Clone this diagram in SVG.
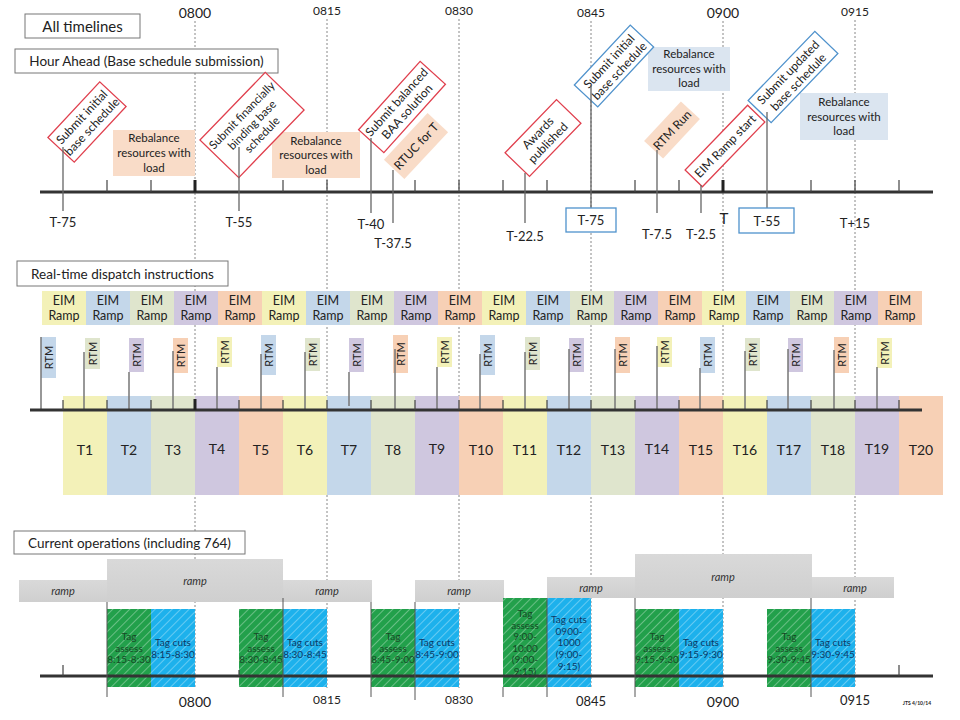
<svg xmlns="http://www.w3.org/2000/svg" width="960" height="720" viewBox="0 0 960 720">
<defs>
<style>
text{font-family:Lato,"Liberation Sans",sans-serif;fill:#222;}
.c{text-anchor:middle;}
.h{font-size:13.5px;text-anchor:middle;}
.hb{fill:#fff;stroke:#777;stroke-width:1;}
.dash{stroke:#888;stroke-width:1;stroke-dasharray:2,2;fill:none;}
.tl{stroke:#333;stroke-width:3;fill:none;}
.tk{stroke:#444;stroke-width:1.2;fill:none;}
.tkb{stroke:#222;stroke-width:3;fill:none;}
.ml{stroke:#666;stroke-width:1.3;fill:none;}
.cr{fill:#fff;stroke:#e0404e;stroke-width:1.3;}
.cb{fill:#fff;stroke:#4f92cc;stroke-width:1.3;}
.co{fill:#f9dcc8;}
.ct{font-size:12px;text-anchor:middle;}
.rb{font-size:11.5px;text-anchor:middle;}
.lbl{font-size:13px;text-anchor:middle;}
.y{fill:#f3f1b8;}.b{fill:#c4d7ea;}.g{fill:#dfe5cd;}.p{fill:#cfc7df;}.o{fill:#f7d0b5;}
.eim{font-size:12.5px;text-anchor:middle;}
.rtm{font-size:11px;text-anchor:middle;}
.rl{stroke:#777;stroke-width:1.5;fill:none;}
.tt{font-size:14px;text-anchor:middle;}
.ramp{fill:url(#rg);}
.rt{font-size:11px;font-style:italic;text-anchor:middle;fill:#333;}
.ga{fill:#22a04b;}.bc{fill:#1db1ec;}
.gt{font-size:10px;text-anchor:middle;fill:#174a26;}
.bt{font-size:10px;text-anchor:middle;fill:#0d3a66;}
.vl{stroke:#555;stroke-width:1;fill:none;}
</style>
<linearGradient id="rg" x1="0" y1="0" x2="0" y2="1"><stop offset="0" stop-color="#d9d9d9"/><stop offset="1" stop-color="#cfcfcf"/></linearGradient>
<pattern id="hatch" patternUnits="userSpaceOnUse" width="6" height="6" patternTransform="rotate(45)">
<line x1="0" y1="0" x2="0" y2="6" stroke="#fff" stroke-opacity="0.55" stroke-width="1.2"/>
</pattern>
</defs>
<rect width="960" height="720" fill="#fff"/>

<!-- dashed hour lines -->
<g id="hourlines">
<line class="dash" x1="195" y1="21" x2="195" y2="688"/>
<line class="dash" x1="327" y1="19" x2="327" y2="688"/>
<line class="dash" x1="459" y1="19" x2="459" y2="688"/>
<line class="dash" x1="591" y1="21" x2="591" y2="688"/>
<line class="dash" x1="723" y1="21" x2="723" y2="688"/>
<line class="dash" x1="855" y1="20" x2="855" y2="688"/>
</g>
<g id="toplabels">
<text x="195" y="18" style="font-size:14px" class="c">0800</text>
<text x="327" y="15" style="font-size:12px" class="c">0815</text>
<text x="459" y="15" style="font-size:12px" class="c">0830</text>
<text x="591" y="17" style="font-size:12px" class="c">0845</text>
<text x="723" y="18" style="font-size:14px" class="c">0900</text>
<text x="855" y="16" style="font-size:12px" class="c">0915</text>
</g>

<!-- headings -->
<g id="h-all"><rect class="hb" x="25" y="14" width="115" height="24"/><text x="82.5" y="31.5" style="font-size:15px" class="c">All timelines</text></g>
<g id="h-hour"><rect class="hb" x="15" y="49" width="263" height="24"/><text x="146.5" y="66" class="h">Hour Ahead (Base schedule submission)</text></g>

<!-- rebalance boxes -->
<g id="reb1"><rect class="co" x="113" y="130" width="82" height="46"/><text class="rb" x="154" y="142">Rebalance</text><text class="rb" x="154" y="157">resources with</text><text class="rb" x="154" y="172">load</text></g>
<g id="reb2"><rect class="co" x="272" y="132" width="88" height="46"/><text class="rb" x="316" y="145">Rebalance</text><text class="rb" x="316" y="159">resources with</text><text class="rb" x="316" y="174">load</text></g>
<g id="reb3"><rect fill="#dbe5f0" x="648" y="47" width="82" height="44"/><text class="rb" x="689" y="58">Rebalance</text><text class="rb" x="689" y="73">resources with</text><text class="rb" x="689" y="87">load</text></g>
<g id="reb4"><rect fill="#dbe5f0" x="800" y="93" width="88" height="47"/><text class="rb" x="844" y="106">Rebalance</text><text class="rb" x="844" y="121">resources with</text><text class="rb" x="844" y="135">load</text></g>

<!-- top timeline -->
<g id="timeline1">
<line class="tl" x1="40" y1="192" x2="933" y2="192"/>
<path class="tk" d="M107 180V192M151 180V192M283 180V192M327 180V192M415 180V192M459 180V192M503 180V192M547 180V192M635 180V192M679 180V192M811 180V192M855 180V192M899 180V192"/>
<path class="tkb" d="M195 180V192M723 180V192"/>
</g>

<!-- callouts -->
<g id="c-init1" transform="translate(87,122) rotate(-47)"><rect class="cr" x="-38" y="-18" width="76" height="36"/><text class="ct" y="-3">Submit initial</text><text class="ct" y="11">base schedule</text></g>
<g id="c-fin" transform="translate(252,125) rotate(-46)"><rect class="cr" x="-47" y="-27" width="94" height="54"/><text class="ct" y="-10" style="font-size:11.5px">Submit financially</text><text class="ct" y="4" style="font-size:11.5px">binding base</text><text class="ct" y="18" style="font-size:11.5px">schedule</text></g>
<g id="c-baa" transform="translate(402,107) rotate(-48)"><rect class="cr" x="-46" y="-17" width="92" height="34"/><text class="ct" y="-3">Submit balanced</text><text class="ct" y="11">BAA solution</text></g>
<g id="c-rtuc" transform="translate(416,146) rotate(-47)"><rect class="co" x="-32" y="-14" width="64" height="28"/><text class="ct" y="4.5">RTUC for T</text></g>
<g id="c-awards" transform="translate(543,138) rotate(-46)"><rect class="cr" x="-37" y="-17" width="74" height="34"/><text class="ct" y="-3">Awards</text><text class="ct" y="11">published</text></g>
<g id="c-init2" transform="translate(614,66) rotate(-47)"><rect class="cb" x="-41" y="-16" width="82" height="32"/><text class="ct" y="-2.5">Submit initial</text><text class="ct" y="11.5">base schedule</text></g>
<g id="c-rtmrun" transform="translate(672,130) rotate(-47)"><rect class="co" x="-27" y="-13" width="54" height="26"/><text class="ct" y="4.5">RTM Run</text></g>
<g id="c-eim" transform="translate(725,146) rotate(-46)"><rect class="cr" x="-45" y="-12" width="90" height="24"/><text class="ct" y="4.5">EIM Ramp start</text></g>
<g id="c-upd" transform="translate(793,77) rotate(-46)"><rect class="cb" x="-48" y="-16" width="96" height="32"/><text class="ct" y="-2.5">Submit updated</text><text class="ct" y="11.5">base schedule</text></g>

<!-- marker lines -->
<g id="markers">
<path class="ml" d="M63 147V211M239 147V211M371 138V213M393 170V223M525 173V223M591 85V208M657 150V213M701 185V213M767 112V208"/>
</g>
<g id="tlabels">
<text class="lbl" x="63" y="227">T-75</text>
<text class="lbl" x="239" y="227">T-55</text>
<text class="lbl" x="371" y="229">T-40</text>
<text class="lbl" x="393" y="248">T-37.5</text>
<text class="lbl" x="525" y="241">T-22.5</text>
<g id="tb75"><rect class="cb" x="566" y="208" width="50" height="24"/><text class="lbl" x="591" y="225">T-75</text></g>
<text class="lbl" x="657" y="239">T-7.5</text>
<text class="lbl" x="701" y="239">T-2.5</text>
<text x="724" y="224" style="font-size:15px" class="c">T</text>
<g id="tb55"><rect class="cb" x="739" y="208" width="55" height="25"/><text class="lbl" x="767" y="226">T-55</text></g>
<text class="lbl" x="855" y="228">T+15</text>
</g>

<!-- Real-time dispatch -->
<g id="h-rt"><rect class="hb" x="17" y="261" width="211" height="25"/><text x="122.5" y="278.5" class="h">Real-time dispatch instructions</text></g>

<g id="eim">
<rect class="y" x="42" y="291" width="44" height="34"/><rect class="b" x="86" y="291" width="44" height="34"/><rect class="g" x="130" y="291" width="44" height="34"/><rect class="p" x="174" y="291" width="44" height="34"/><rect class="o" x="218" y="291" width="44" height="34"/>
<rect class="y" x="262" y="291" width="44" height="34"/><rect class="b" x="306" y="291" width="44" height="34"/><rect class="g" x="350" y="291" width="44" height="34"/><rect class="p" x="394" y="291" width="44" height="34"/><rect class="o" x="438" y="291" width="44" height="34"/>
<rect class="y" x="482" y="291" width="44" height="34"/><rect class="b" x="526" y="291" width="44" height="34"/><rect class="g" x="570" y="291" width="44" height="34"/><rect class="p" x="614" y="291" width="44" height="34"/><rect class="o" x="658" y="291" width="44" height="34"/>
<rect class="y" x="702" y="291" width="44" height="34"/><rect class="b" x="746" y="291" width="44" height="34"/><rect class="g" x="790" y="291" width="44" height="34"/><rect class="p" x="834" y="291" width="44" height="34"/><rect class="o" x="878" y="291" width="44" height="34"/>
<g class="eim">
<text x="64" y="304.5">EIM</text><text x="108" y="304.5">EIM</text><text x="152" y="304.5">EIM</text><text x="196" y="304.5">EIM</text><text x="240" y="304.5">EIM</text><text x="284" y="304.5">EIM</text><text x="328" y="304.5">EIM</text><text x="372" y="304.5">EIM</text><text x="416" y="304.5">EIM</text><text x="460" y="304.5">EIM</text>
<text x="504" y="304.5">EIM</text><text x="548" y="304.5">EIM</text><text x="592" y="304.5">EIM</text><text x="636" y="304.5">EIM</text><text x="680" y="304.5">EIM</text><text x="724" y="304.5">EIM</text><text x="768" y="304.5">EIM</text><text x="812" y="304.5">EIM</text><text x="856" y="304.5">EIM</text><text x="900" y="304.5">EIM</text>
<text x="64" y="319.5">Ramp</text><text x="108" y="319.5">Ramp</text><text x="152" y="319.5">Ramp</text><text x="196" y="319.5">Ramp</text><text x="240" y="319.5">Ramp</text><text x="284" y="319.5">Ramp</text><text x="328" y="319.5">Ramp</text><text x="372" y="319.5">Ramp</text><text x="416" y="319.5">Ramp</text><text x="460" y="319.5">Ramp</text>
<text x="504" y="319.5">Ramp</text><text x="548" y="319.5">Ramp</text><text x="592" y="319.5">Ramp</text><text x="636" y="319.5">Ramp</text><text x="680" y="319.5">Ramp</text><text x="724" y="319.5">Ramp</text><text x="768" y="319.5">Ramp</text><text x="812" y="319.5">Ramp</text><text x="856" y="319.5">Ramp</text><text x="900" y="319.5">Ramp</text>
</g>
</g>

<!-- T boxes -->
<g id="tboxes">
<rect class="y" x="63" y="396" width="44" height="99"/><rect class="b" x="107" y="396" width="44" height="99"/><rect class="g" x="151" y="396" width="44" height="99"/><rect class="p" x="195" y="396" width="44" height="99"/><rect class="o" x="239" y="396" width="44" height="99"/>
<rect class="y" x="283" y="396" width="44" height="99"/><rect class="b" x="327" y="396" width="44" height="99"/><rect class="g" x="371" y="396" width="44" height="99"/><rect class="p" x="415" y="396" width="44" height="99"/><rect class="o" x="459" y="396" width="44" height="99"/>
<rect class="y" x="503" y="396" width="44" height="99"/><rect class="b" x="547" y="396" width="44" height="99"/><rect class="g" x="591" y="396" width="44" height="99"/><rect class="p" x="635" y="396" width="44" height="99"/><rect class="o" x="679" y="396" width="44" height="99"/>
<rect class="y" x="723" y="396" width="44" height="99"/><rect class="b" x="767" y="396" width="44" height="99"/><rect class="g" x="811" y="396" width="44" height="99"/><rect class="p" x="855" y="396" width="44" height="99"/><rect class="o" x="899" y="396" width="44" height="99"/>
<g class="tt">
<text x="85" y="455">T1</text><text x="129" y="455">T2</text><text x="173" y="455">T3</text><text x="217" y="454">T4</text><text x="261" y="455">T5</text><text x="305" y="455">T6</text><text x="349" y="455">T7</text><text x="393" y="455">T8</text><text x="437" y="454">T9</text><text x="481" y="455">T10</text>
<text x="525" y="455">T11</text><text x="569" y="455">T12</text><text x="613" y="455">T13</text><text x="657" y="454">T14</text><text x="701" y="455">T15</text><text x="745" y="455">T16</text><text x="789" y="455">T17</text><text x="833" y="455">T18</text><text x="877" y="454">T19</text><text x="921" y="455">T20</text>
</g>
</g>

<!-- RTM labels -->
<g id="rtm">
<rect class="b" x="41" y="337" width="15" height="41"/><rect class="g" x="85" y="338" width="15" height="31"/><rect class="p" x="129" y="338" width="15" height="34"/><rect class="o" x="173" y="338" width="15" height="35"/><rect class="y" x="217" y="337" width="15" height="30"/>
<rect class="b" x="261" y="335" width="15" height="40"/><rect class="g" x="305" y="338" width="15" height="33"/><rect class="p" x="349" y="338" width="15" height="34"/><rect class="o" x="393" y="335" width="15" height="38"/><rect class="y" x="437" y="337" width="15" height="30"/>
<rect class="b" x="480" y="335" width="15" height="40"/><rect class="g" x="525" y="337" width="15" height="33"/><rect class="p" x="569" y="338" width="15" height="34"/><rect class="o" x="615" y="337" width="15" height="36"/><rect class="y" x="657" y="337" width="15" height="30"/>
<rect class="b" x="700" y="337" width="15" height="36"/><rect class="g" x="745" y="338" width="15" height="33"/><rect class="p" x="788" y="338" width="15" height="34"/><rect class="o" x="834" y="337" width="15" height="36"/><rect class="y" x="877" y="338" width="15" height="30"/>
<g class="rtm">
<text transform="translate(52.5,357.5) rotate(-90)">RTM</text><text transform="translate(96.5,353.5) rotate(-90)">RTM</text><text transform="translate(140.5,355) rotate(-90)">RTM</text><text transform="translate(184.5,355.5) rotate(-90)">RTM</text><text transform="translate(228.5,352) rotate(-90)">RTM</text>
<text transform="translate(272.5,355) rotate(-90)">RTM</text><text transform="translate(316.5,354.5) rotate(-90)">RTM</text><text transform="translate(360.5,355) rotate(-90)">RTM</text><text transform="translate(404.5,354) rotate(-90)">RTM</text><text transform="translate(448.5,352) rotate(-90)">RTM</text>
<text transform="translate(491.5,355) rotate(-90)">RTM</text><text transform="translate(536.5,353.5) rotate(-90)">RTM</text><text transform="translate(580.5,355) rotate(-90)">RTM</text><text transform="translate(626.5,355) rotate(-90)">RTM</text><text transform="translate(668.5,352) rotate(-90)">RTM</text>
<text transform="translate(711.5,355) rotate(-90)">RTM</text><text transform="translate(756.5,354.5) rotate(-90)">RTM</text><text transform="translate(799.5,355) rotate(-90)">RTM</text><text transform="translate(845.5,355) rotate(-90)">RTM</text><text transform="translate(888.5,353) rotate(-90)">RTM</text>
</g>
</g>

<!-- timeline 2 -->
<g id="timeline2">
<path class="rl" d="M41 337V410M84 352V410M129 372V410M173 351V410M217 367V410M261 354V410M305 352V410M349 372V406M395 349V410M437 367V410M480 354V410M525 352V410M569 349V410M615 349V410M657 346V410M700 368V410M745 351V410M788 349V410M834 350V410M877 367V410"/>
<line class="tl" x1="30" y1="410" x2="922" y2="410"/>
<path class="tk" d="M63 400V410M107 400V410M151 400V410M239 400V410M283 400V410M327 400V410M371 400V410M415 400V410M459 400V410M503 400V410M547 400V410M591 400V410M635 400V410M679 400V410M723 400V410M767 400V410M811 400V410M855 400V410M899 400V410"/>
<path class="tkb" d="M195 399V410"/>
</g>

<!-- Current operations -->
<g id="h-cur"><rect class="hb" x="14" y="531" width="231" height="23"/><text x="129.5" y="547.5" style="font-size:13.5px" class="c">Current operations (including 764)</text></g>

<g id="ramps">
<rect class="ramp" x="19" y="580" width="88" height="22"/><text class="rt" x="63" y="595">ramp</text>
<rect class="ramp" x="107" y="559" width="176" height="43"/><text class="rt" x="195" y="585">ramp</text>
<rect class="ramp" x="283" y="580" width="89" height="22"/><text class="rt" x="327" y="595">ramp</text>
<rect class="ramp" x="415" y="580" width="89" height="22"/><text class="rt" x="459" y="595">ramp</text>
<rect class="ramp" x="547" y="577" width="88" height="21"/><text class="rt" x="591" y="592">ramp</text>
<rect class="ramp" x="635" y="554" width="177" height="44"/><text class="rt" x="723" y="581">ramp</text>
<rect class="ramp" x="812" y="577" width="82" height="21"/><text class="rt" x="855" y="592">ramp</text>
</g>

<g id="tags">
<rect class="ga" x="107" y="609" width="44" height="78"/><rect class="bc" x="151" y="609" width="44" height="78"/>
<rect class="ga" x="239" y="609" width="44" height="78"/><rect class="bc" x="283" y="609" width="44" height="78"/>
<rect class="ga" x="371" y="609" width="44" height="78"/><rect class="bc" x="415" y="609" width="44" height="78"/>
<rect class="ga" x="503" y="598" width="44" height="89"/><rect class="bc" x="547" y="598" width="44" height="89"/>
<rect class="ga" x="635" y="609" width="44" height="78"/><rect class="bc" x="679" y="609" width="44" height="78"/>
<rect class="ga" x="767" y="609" width="44" height="78"/><rect class="bc" x="811" y="609" width="44" height="78"/>
<g fill="url(#hatch)">
<rect x="107" y="609" width="88" height="78"/><rect x="239" y="609" width="88" height="78"/><rect x="371" y="609" width="88" height="78"/><rect x="503" y="598" width="88" height="89"/><rect x="635" y="609" width="88" height="78"/><rect x="767" y="609" width="88" height="78"/>
</g>
</g>

<!-- timeline 3 -->
<g id="timeline3">
<line class="tl" x1="40" y1="676" x2="933" y2="676"/>
<path class="tk" d="M63 665V676M239 670V676M899 665V676"/>
<path class="vl" d="M107 602V697M283 598V697M371 602V697M415 602V700M503 687V697M547 598V697M635 598V697M811 598V697"/>
</g>

<g id="tagtext">
<text class="gt" x="129" y="640">Tag</text><text class="gt" x="129" y="651.5">assess</text><text class="gt" x="129" y="663">8:15-8:30</text>
<text class="bt" x="173" y="646">Tag cuts</text><text class="bt" x="173" y="657.5">8:15-8:30</text>
<text class="gt" x="261" y="640">Tag</text><text class="gt" x="261" y="651.5">assess</text><text class="gt" x="261" y="663">8:30-8:45</text>
<text class="bt" x="305" y="646">Tag cuts</text><text class="bt" x="305" y="657.5">8:30-8:45</text>
<text class="gt" x="393" y="640">Tag</text><text class="gt" x="393" y="651.5">assess</text><text class="gt" x="393" y="663">8:45-9:00</text>
<text class="bt" x="437" y="646">Tag cuts</text><text class="bt" x="437" y="657.5">8:45-9:00</text>
<text class="gt" x="525" y="617">Tag</text><text class="gt" x="525" y="628.5">assess</text><text class="gt" x="525" y="640">9:00-</text><text class="gt" x="525" y="651.5">10:00</text><text class="gt" x="525" y="663">(9:00-</text><text class="gt" x="525" y="674.5">9:15)</text>
<text class="bt" x="569" y="623">Tag cuts</text><text class="bt" x="569" y="634.5">0900-</text><text class="bt" x="569" y="646">1000</text><text class="bt" x="569" y="658">(9:00-</text><text class="bt" x="569" y="670">9:15)</text>
<text class="gt" x="657" y="640">Tag</text><text class="gt" x="657" y="651.5">assess</text><text class="gt" x="657" y="663">9:15-9:30</text>
<text class="bt" x="701" y="646">Tag cuts</text><text class="bt" x="701" y="657.5">9:15-9:30</text>
<text class="gt" x="789" y="640">Tag</text><text class="gt" x="789" y="651.5">assess</text><text class="gt" x="789" y="663">9:30-9:45</text>
<text class="bt" x="833" y="646">Tag cuts</text><text class="bt" x="833" y="657.5">9:30-9:45</text>
</g>

<g id="bottomlabels">
<text x="195" y="707" style="font-size:14px" class="c">0800</text>
<text x="327" y="704" style="font-size:12px" class="c">0815</text>
<text x="459" y="704" style="font-size:12px" class="c">0830</text>
<text x="591" y="706" style="font-size:13px" class="c">0845</text>
<text x="723" y="707" style="font-size:14px" class="c">0900</text>
<text x="855" y="705" style="font-size:13px" class="c">0915</text>
<text x="917" y="705" style="font-size:5px;font-weight:bold" class="c">JTS 4/10/14</text>
</g>
</svg>
